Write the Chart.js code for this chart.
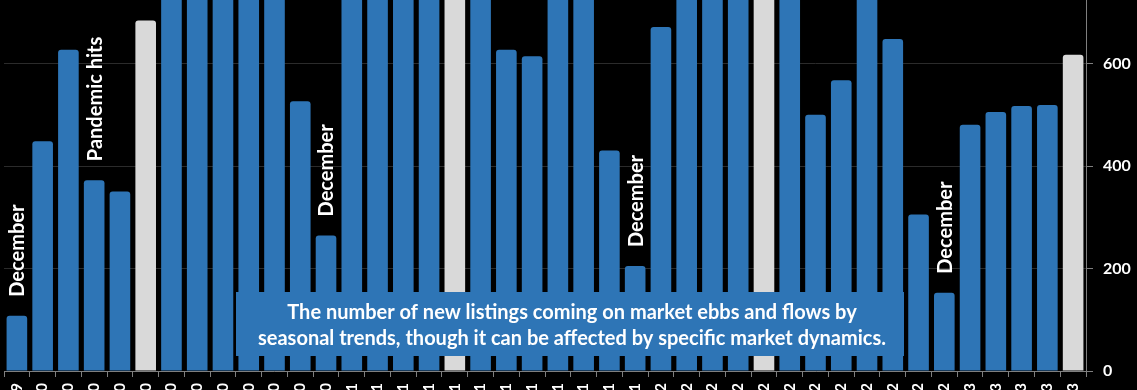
<!DOCTYPE html>
<html>
<head>
<meta charset="utf-8">
<script src="https://cdn.jsdelivr.net/npm/chart.js@4/dist/chart.umd.min.js"></script>
<style>
html, body { margin: 0; padding: 0; background: #000; width: 1137px; height: 390px; overflow: hidden; }
#wrap { position: absolute; left: 0; top: 0; width: 1137px; height: 450px; }
</style>
</head>
<body>
<div id="wrap"><canvas id="c"></canvas></div>
<script>
// Month categories (Dec 2019 – May 2023)
const months = [
  'Dec-19',
  'Jan-20','Feb-20','Mar-20','Apr-20','May-20','Jun-20','Jul-20','Aug-20','Sep-20','Oct-20','Nov-20','Dec-20',
  'Jan-21','Feb-21','Mar-21','Apr-21','May-21','Jun-21','Jul-21','Aug-21','Sep-21','Oct-21','Nov-21','Dec-21',
  'Jan-22','Feb-22','Mar-22','Apr-22','May-22','Jun-22','Jul-22','Aug-22','Sep-22','Oct-22','Nov-22','Dec-22',
  'Jan-23','Feb-23','Mar-23','Apr-23','May-23'
];
// New listings per month (values above ~725 run off the top of the picture)
const newListings = [
  108,
  449, 628, 373, 351, 685, 790, 860, 880, 840, 770, 527, 265,
  760, 800, 830, 870, 900, 850, 628, 615, 760, 790, 431, 205,
  672, 760, 820, 850, 880, 790, 501, 568, 740, 649, 306, 153,
  481, 506, 518, 520, 618
];
// Months drawn in the highlight colour
const highlightMonths = ['May-20', 'May-21', 'May-22', 'May-23'];
// Vertical notes above bars
const noteMonths = ['Dec-19', 'Mar-20', 'Dec-20', 'Dec-21', 'Dec-22'];
const noteTexts  = ['December', 'Pandemic hits', 'December', 'December', 'December'];
// Caption box text
const captionLines = [
  'The number of new listings coming on market ebbs and flows by',
  'seasonal trends, though it can be affected by specific market dynamics.'
];
// Y axis ticks
const yTickValues = [0, 200, 400, 600];

const BLUE = '#2E75B6';
const GRAY = '#D9D9D9';
const FONT = 'Lato, "Open Sans", sans-serif';

const overlayPlugin = {
  id: 'overlay',
  afterDatasetsDraw(chart) {
    const ctx = chart.ctx;
    const xs = chart.scales.x, ys = chart.scales.y;
    ctx.save();
    // vertical notes
    ctx.fillStyle = '#fff';
    ctx.font = 'bold 20px ' + FONT;
    ctx.textAlign = 'left';
    ctx.textBaseline = 'middle';
    noteMonths.forEach((m, i) => {
      const idx = months.indexOf(m);
      const x = xs.getPixelForValue(idx);
      const y = ys.getPixelForValue(newListings[idx]) - 19;
      ctx.save();
      ctx.translate(x + 1, y);
      ctx.rotate(-Math.PI / 2);
      ctx.fillText(noteTexts[i], 0, 0);
      ctx.restore();
    });
    // caption box
    const bx = 236, by = 292, bw = 668, bh = 64;
    ctx.fillStyle = BLUE;
    ctx.fillRect(bx, by, bw, bh);
    ctx.fillStyle = '#fff';
    ctx.font = 'bold 20px ' + FONT;
    ctx.textAlign = 'center';
    ctx.textBaseline = 'alphabetic';
    ctx.fillText(captionLines[0], bx + bw / 2 + 2, 319);
    ctx.fillText(captionLines[1], bx + bw / 2 + 2, 345);
    ctx.restore();
  }
};

new Chart(document.getElementById('c'), {
  type: 'bar',
  data: {
    labels: months,
    datasets: [{
      data: newListings,
      backgroundColor: ctx => highlightMonths.includes(months[ctx.dataIndex]) ? GRAY : BLUE,
      borderRadius: 3,
      borderSkipped: 'start',
      barPercentage: 0.8,
      categoryPercentage: 1
    }]
  },
  options: {
    responsive: true,
    maintainAspectRatio: false,
    animation: false,
    layout: { padding: { left: 4, right: 0, top: 0, bottom: 0 } },
    plugins: { legend: { display: false }, tooltip: { enabled: false } },
    scales: {
      x: {
        offset: true,
        grid: { display: true, drawOnChartArea: false, offset: true, tickLength: 6, tickColor: '#7f7f7f', color: '#7f7f7f' },
        border: { display: true, color: '#7f7f7f' },
        ticks: {
          autoSkip: false, maxRotation: 90, minRotation: 90, padding: 6,
          color: '#fff', font: { family: FONT, weight: 'bold', size: 15 }
        },
        afterFit(scale) { scale.height = 79; scale.paddingLeft = 0; scale.paddingRight = 0; }
      },
      y: {
        position: 'right',
        min: 0,
        max: 725,
        afterBuildTicks(scale) { scale.ticks = yTickValues.map(v => ({ value: v })); },
        grid: { color: '#2b2b2b', tickColor: '#7f7f7f', tickLength: 7 },
        border: { display: true, color: '#7f7f7f' },
        ticks: {
          padding: 10,
          color: '#fff', font: { family: FONT, weight: 'bold', size: 16 }
        },
        afterFit(scale) { scale.width = 51; scale.paddingTop = 0; scale.paddingBottom = 0; }
      }
    }
  },
  plugins: [overlayPlugin]
});
</script>
</body>
</html>
